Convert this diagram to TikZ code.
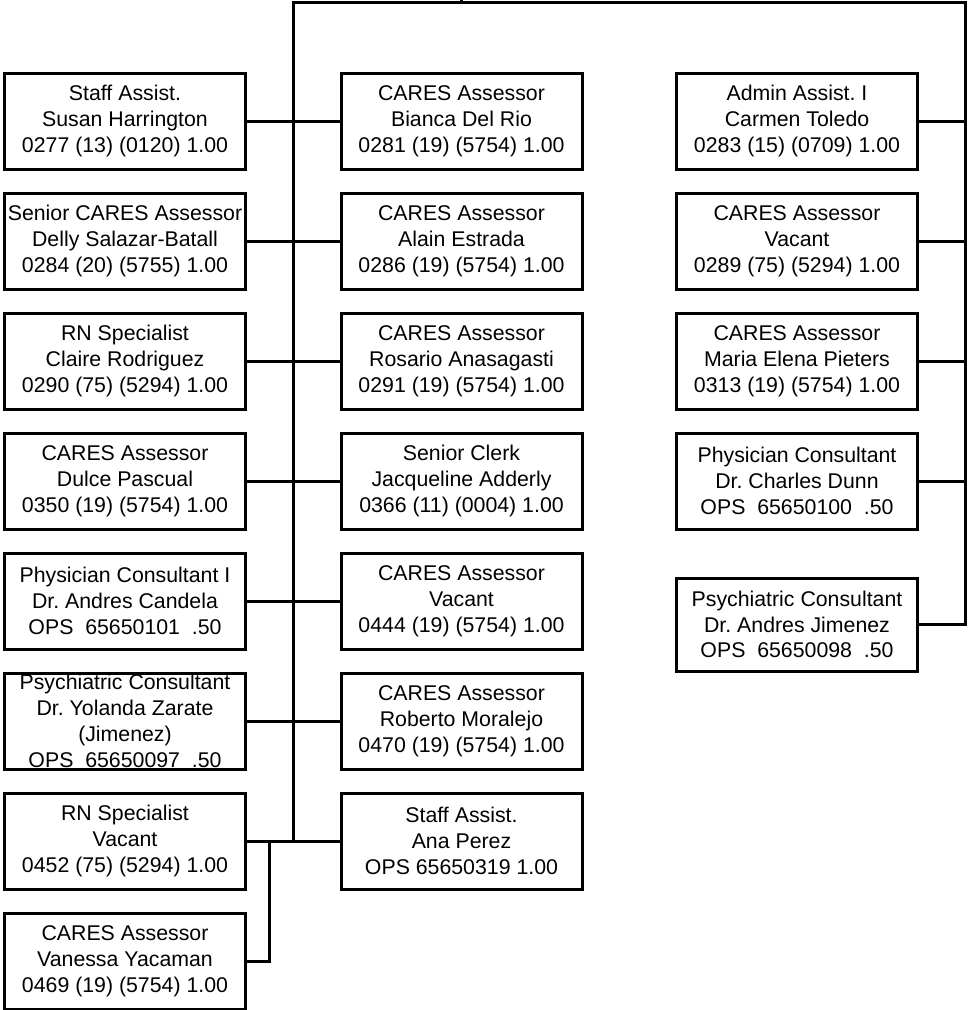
\documentclass[tikz,border=0pt]{standalone}
\usepackage{fontspec}
\setmainfont{Liberation Sans}
\frenchspacing
\begin{document}
\begin{tikzpicture}[x=1pt,y=-1pt,
  post/.style={draw=black, line width=3pt, fill=white, inner sep=0pt,
    minimum width=241pt, minimum height=96pt, align=center,
    font=\fontsize{21.3}{25.8}\selectfont},
  link/.style={draw=black, line width=3pt, line cap=rect}]
\useasboundingbox (0,0) rectangle (968,1010);

% left column
\node[post] (L1) at (125,121) {Staff Assist.\\Susan Harrington\\0277 (13) (0120) 1.00};
\node[post] (L2) at (125,241) {Senior CARES Assessor\\Delly Salazar-Batall\\0284 (20) (5755) 1.00};
\node[post] (L3) at (125,361) {RN Specialist\\Claire Rodriguez\\0290 (75) (5294) 1.00};
\node[post] (L4) at (125,481) {CARES Assessor\\Dulce Pascual\\0350 (19) (5754) 1.00};
\node[post] (L5) at (125,601) {Physician Consultant I\\Dr. Andres Candela\\OPS\ \ 65650101\ \ .50};
\node[post] (L6) at (125,721) {Psychiatric Consultant\\Dr. Yolanda Zarate\\(Jimenez)\\OPS\ \ 65650097\ \ .50};
\node[post] (L7) at (125,841) {RN Specialist\\Vacant\\0452 (75) (5294) 1.00};
\node[post] (L8) at (125,961) {CARES Assessor\\Vanessa Yacaman\\0469 (19) (5754) 1.00};

% middle column
\node[post] (M1) at (461.5,121) {CARES Assessor\\Bianca Del Rio\\0281 (19) (5754) 1.00};
\node[post] (M2) at (461.5,241) {CARES Assessor\\Alain Estrada\\0286 (19) (5754) 1.00};
\node[post] (M3) at (461.5,361) {CARES Assessor\\Rosario Anasagasti\\0291 (19) (5754) 1.00};
\node[post] (M4) at (461.5,481) {Senior Clerk\\Jacqueline Adderly\\0366 (11) (0004) 1.00};
\node[post] (M5) at (461.5,601) {CARES Assessor\\Vacant\\0444 (19) (5754) 1.00};
\node[post] (M6) at (461.5,721) {CARES Assessor\\Roberto Moralejo\\0470 (19) (5754) 1.00};
\node[post] (M7) at (461.5,841) {Staff Assist.\\Ana Perez\\OPS 65650319 1.00};

% right column
\node[post] (R1) at (797,121) {Admin Assist. I\\Carmen Toledo\\0283 (15) (0709) 1.00};
\node[post] (R2) at (797,241) {CARES Assessor\\Vacant\\0289 (75) (5294) 1.00};
\node[post] (R3) at (797,361) {CARES Assessor\\Maria Elena Pieters\\0313 (19) (5754) 1.00};
\node[post] (R4) at (797,481) {Physician Consultant\\Dr. Charles Dunn\\OPS\ \ 65650100\ \ .50};
\node[post, minimum height=93pt] (R5) at (797,624.5) {Psychiatric Consultant\\Dr. Andres Jimenez\\OPS\ \ 65650098\ \ .50};

% trunk lines
\coordinate (head) at (461,0);
\coordinate (headfoot) at (461,2);
\coordinate (top) at (293,2);
\coordinate (rtop) at (965,2);
\coordinate (sub) at (269,841);

\draw[link] (head) -- (headfoot);
\draw[link] (top) -- (rtop);
\draw[link] (top) -- (top |- L7.east);
\draw[link] (rtop) -- (rtop |- R5.east);

% branches
\foreach \k in {1,...,7}{
  \draw[link] (L\k.east) -- (M\k.west);
}
\foreach \k in {1,...,5}{
  \draw[link] (R\k.east) -- (R\k.east -| rtop);
}
\draw[link] (L8.east) -| (sub);
\end{tikzpicture}
\end{document}
